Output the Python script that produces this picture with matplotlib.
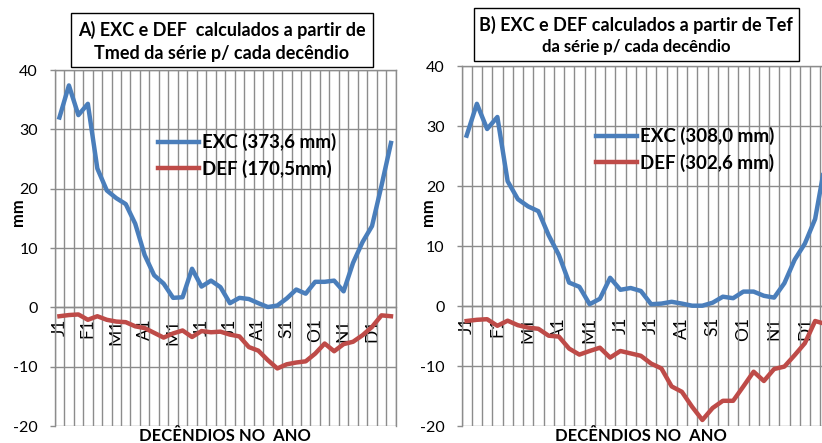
import matplotlib
matplotlib.use('Agg')
import matplotlib.pyplot as plt
import numpy as np
from matplotlib.lines import Line2D
from matplotlib.patches import Rectangle

plt.rcParams['font.family'] = ['Lato', 'DejaVu Sans']

# ---------------- data ----------------
decendios = list(range(36))
month_labels = ['J1', 'F1', 'M1', 'A1', 'M1', 'J1', 'J1', 'A1', 'S1', 'O1', 'N1', 'D1']
label_positions = list(range(0, 36, 3))
y_ticks = [-20, -10, 0, 10, 20, 30, 40]

exc_a = [32.0, 37.4, 32.4, 34.3, 23.4, 19.7, 18.4, 17.4, 14.1, 8.8, 5.4, 4.0,
         1.6, 1.7, 6.5, 3.5, 4.5, 3.4, 0.7, 1.6, 1.4, 0.7, 0.05, 0.3,
         1.5, 3.0, 2.3, 4.3, 4.3, 4.5, 2.7, 7.5, 11.0, 13.7, 20.5, 27.7]
def_a = [-1.5, -1.3, -1.2, -2.1, -1.5, -2.1, -2.4, -2.5, -3.2, -3.5, -4.3, -5.1,
         -4.4, -3.9, -5.0, -4.0, -4.2, -4.1, -4.6, -4.9, -6.7, -7.3, -8.9, -10.3,
         -9.6, -9.3, -9.1, -7.8, -6.1, -7.4, -6.2, -5.8, -4.7, -3.3, -1.35, -1.5]

exc_b = [28.4, 33.7, 29.5, 31.5, 20.8, 17.8, 16.6, 15.8, 11.8, 8.5, 3.9, 3.2,
         0.3, 1.2, 4.7, 2.7, 3.0, 2.5, 0.3, 0.4, 0.7, 0.4, 0.05, 0.05,
         0.55, 1.55, 1.3, 2.4, 2.4, 1.7, 1.4, 3.8, 7.7, 10.4, 14.5, 24.0]
def_b = [-2.5, -2.3, -2.2, -3.3, -2.45, -3.2, -3.6, -3.8, -4.95, -5.1, -7.1, -8.1,
         -7.5, -6.95, -8.6, -7.5, -7.9, -8.3, -9.6, -10.4, -13.4, -14.3, -16.8, -19.0,
         -17.0, -15.8, -15.8, -13.4, -10.95, -12.5, -10.5, -10.1, -8.2, -6.2, -2.5, -3.0]

legend_a = ['EXC (373,6 mm)', 'DEF (170,5mm)']
legend_b = ['EXC (308,0 mm)', 'DEF (302,6 mm)']
title_a = ['A) EXC e DEF  calculados a partir de', 'Tmed da série p/ cada decêndio']
title_b = ['B) EXC e DEF calculados a partir de Tef', 'da série p/ cada decêndio']
xlabel = 'DECÊNDIOS NO  ANO'
ylabel = 'mm'

# ---------------- style ----------------
W, H = 822, 443
BLUE = '#4A7EBB'
RED = '#BE4B48'
GRID = '#8C8C8C'
TICK_FS = 11.5
XTICK_FS = 12.5
LEG_FS = 13.5
TITLE_FS = 13
LAB_FS = 12

fig = plt.figure(figsize=(W / 100, H / 100), dpi=100)
fig.patch.set_facecolor('white')


def px(x0, y0, x1, y1):
    return [x0 / W, 1 - y1 / H, (x1 - x0) / W, (y1 - y0) / H]


def setup(ax, exc, dfc, leg_labels, leg_anchor, ylab_xy, tick_pad):
    # spine position first (it resets tick properties)
    ax.spines['bottom'].set_position(('data', 0))
    ax.spines['bottom'].set_color(GRID)
    ax.spines['bottom'].set_linewidth(1.0)
    for s in ['left', 'right', 'top']:
        ax.spines[s].set_color(GRID)
        ax.spines[s].set_linewidth(1.0)

    ax.plot(decendios, exc, color=BLUE, lw=3.2, solid_joinstyle='round', zorder=3)
    ax.plot(decendios, dfc, color=RED, lw=3.2, solid_joinstyle='round', zorder=3)
    ax.set_xlim(-0.5, 35.5)
    ax.set_ylim(-20, 40)
    ax.set_yticks(y_ticks)
    ax.set_yticklabels([str(v) for v in y_ticks], fontsize=TICK_FS)
    ax.set_xticks(label_positions)
    ax.set_xticklabels(month_labels, rotation=90, fontsize=XTICK_FS)
    ax.set_xticks(np.arange(-0.5, 36, 1), minor=True)
    ax.tick_params(axis='x', which='both', length=0, pad=tick_pad)
    ax.tick_params(axis='y', length=3.6, width=1.0, color=GRID, pad=8.5)
    ax.grid(True, which='minor', axis='x', color=GRID, lw=1.0)
    ax.grid(True, which='major', axis='y', color=GRID, lw=1.0)
    ax.set_axisbelow(True)

    ax.set_ylabel(ylabel, fontsize=LAB_FS, fontweight='bold')
    ax.yaxis.set_label_coords(*ylab_xy)
    handles = [Line2D([], [], color=BLUE, lw=3.2), Line2D([], [], color=RED, lw=3.2)]
    ax.legend(handles, leg_labels, loc='upper left',
              bbox_to_anchor=(leg_anchor[0] / W, 1 - leg_anchor[1] / H),
              bbox_transform=fig.transFigure, frameon=False,
              prop={'weight': 'bold', 'size': LEG_FS},
              handlelength=2.2, handletextpad=0.12, labelspacing=0.45,
              borderpad=0, borderaxespad=0)
    ax.xaxis.set_label_text(xlabel, fontsize=LAB_FS, fontweight='bold')


axA = fig.add_axes(px(54.7, 70, 395.7, 426))
setup(axA, exc_a, def_a, legend_a, (158, 133), (-0.085, 0.60), 8)
axA.xaxis.set_label_coords(0.5, -0.042)
axA.xaxis.label.set_va('baseline')

axB = fig.add_axes(px(461.5, 66, 830.5, 426))
setup(axB, exc_b, def_b, legend_b, (596, 127), (-0.07, 0.595), 8)
axB.xaxis.set_label_coords(0.485, -0.042)
axB.xaxis.label.set_va('baseline')

# title boxes
for (x0, y0, x1, y1) in [(71, 13, 373, 67), (474, 8, 799, 61)]:
    r = Rectangle((x0 / W, 1 - y1 / H), (x1 - x0) / W, (y1 - y0) / H, transform=fig.transFigure,
                  facecolor='white', edgecolor='black', lw=1.0, zorder=5)
    fig.patches.append(r)

fig.text(222 / W, 1 - 30 / H, title_a[0], ha='center', va='center', fontsize=TITLE_FS, fontweight='bold', zorder=6)
fig.text(222 / W, 1 - 53 / H, title_a[1], ha='center', va='center', fontsize=TITLE_FS, fontweight='bold', zorder=6)
fig.text(636 / W, 1 - 25 / H, title_b[0], ha='center', va='center', fontsize=TITLE_FS, fontweight='bold', zorder=6)
fig.text(636 / W, 1 - 47 / H, title_b[1], ha='center', va='center', fontsize=TITLE_FS - 1.0, fontweight='bold', zorder=6)

fig.savefig('out.png', dpi=100)
